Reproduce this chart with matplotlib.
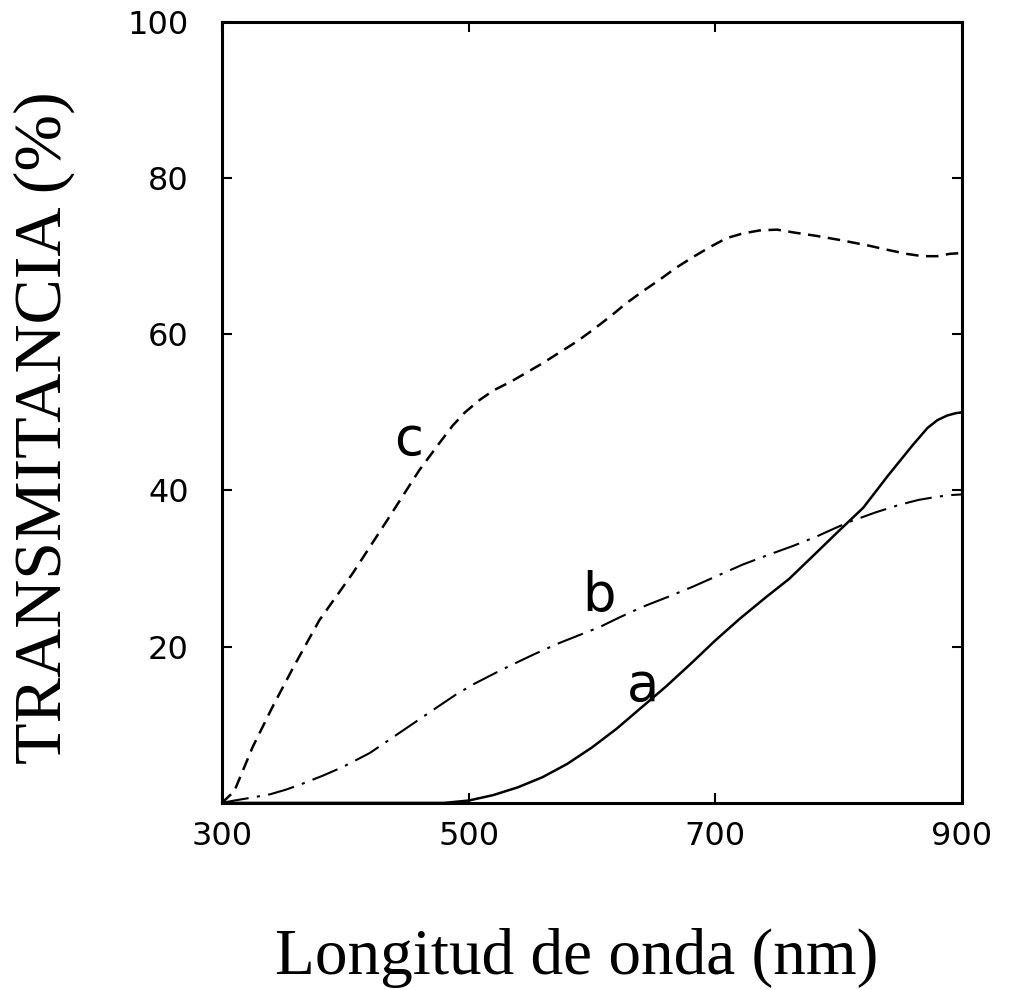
import matplotlib
matplotlib.use("Agg")
import matplotlib.pyplot as plt

# Curve a (solid)
a_x = [300, 480, 500, 520, 540, 560, 580, 600, 620, 640, 660, 680, 700, 720, 740, 760, 783, 800, 820, 840, 860, 872, 880, 888, 895, 900]
a_y = [0, 0, 0.3, 1.0, 2.0, 3.3, 5.0, 7.1, 9.5, 12.2, 14.9, 17.8, 20.8, 23.6, 26.2, 28.7, 32.2, 34.8, 37.8, 41.9, 45.8, 48.0, 49.0, 49.6, 49.9, 50.0]

# Curve b (dash-dot)
b_x = [300, 310, 325, 339, 352, 366, 382, 398, 420, 447, 474, 490, 504, 520, 534, 554, 574, 590, 606, 623, 641, 662, 682, 702, 722, 742, 763, 782, 796, 809, 830, 850, 865, 880, 890, 900]
b_y = [0, 0.3, 0.7, 1.1, 1.7, 2.5, 3.5, 4.6, 6.4, 9.3, 12.2, 13.9, 15.2, 16.5, 17.6, 19.1, 20.5, 21.5, 22.5, 23.8, 25.1, 26.4, 27.7, 29.1, 30.5, 31.7, 32.9, 34.1, 35.1, 36.0, 37.2, 38.2, 38.8, 39.2, 39.4, 39.5]

# Curve c (dashed)
c_x = [300, 310, 325, 341, 358, 379, 406, 434, 460, 475, 487, 497, 509, 520, 535, 547, 560, 574, 588, 601, 615, 628, 642, 655, 668, 682, 696, 709, 722, 736, 750, 765, 782, 800, 823, 840, 855, 868, 880, 890, 900]
c_y = [0, 1.5, 7.2, 12.3, 17.4, 23.4, 29.4, 36.2, 42.6, 45.8, 48.3, 50.0, 51.6, 52.8, 54.0, 55.1, 56.3, 57.7, 59.1, 60.6, 62.3, 64.0, 65.6, 67.0, 68.5, 69.9, 71.2, 72.3, 72.9, 73.3, 73.4, 73.0, 72.6, 72.1, 71.4, 70.8, 70.3, 70.0, 70.0, 70.3, 70.4]

x_ticks = [300, 500, 700, 900]
y_ticks = [20, 40, 60, 80, 100]
curve_labels = ["a", "b", "c"]
label_pos_x = [641, 606, 451]
label_pos_y = [15.0, 26.5, 46.5]

fig = plt.figure(figsize=(10.09, 9.90), dpi=100)
ax = fig.add_axes([0.22, 0.189, 0.7334, 0.7889])

ax.plot(a_x, a_y, color="black", lw=1.8, solid_capstyle="round", solid_joinstyle="round")
ax.plot(b_x, b_y, color="black", lw=1.5, linestyle=(0, (13, 4, 1.5, 4)))
ax.plot(c_x, c_y, color="black", lw=1.8, linestyle=(0, (5, 3)))

for t, lx, ly in zip(curve_labels, label_pos_x, label_pos_y):
    ax.text(lx, ly, t, fontsize=38, family="DejaVu Sans", ha="center", va="center")

ax.set_xlim(300, 900)
ax.set_ylim(0, 100)
ax.set_xticks(x_ticks)
ax.set_xticklabels([str(v) for v in x_ticks])
ax.set_yticks(y_ticks)
ax.set_yticklabels([str(v) for v in y_ticks])

for s in ax.spines.values():
    s.set_linewidth(2.2)

ax.tick_params(axis="both", direction="in", length=7, width=1.5,
               top=True, right=True, labelsize=23)
ax.tick_params(axis="x", pad=13)
ax.tick_params(axis="y", pad=24)

ax.set_xlabel("Longitud de onda (nm)", fontsize=47, family="Liberation Serif", labelpad=55)
ax.set_ylabel("TRANSMITANCIA (%)", fontsize=49, family="Liberation Serif", labelpad=38)
ax.xaxis.label.set_x(0.48)
ax.yaxis.label.set_y(0.48)

fig.savefig("out.png", dpi=100)
